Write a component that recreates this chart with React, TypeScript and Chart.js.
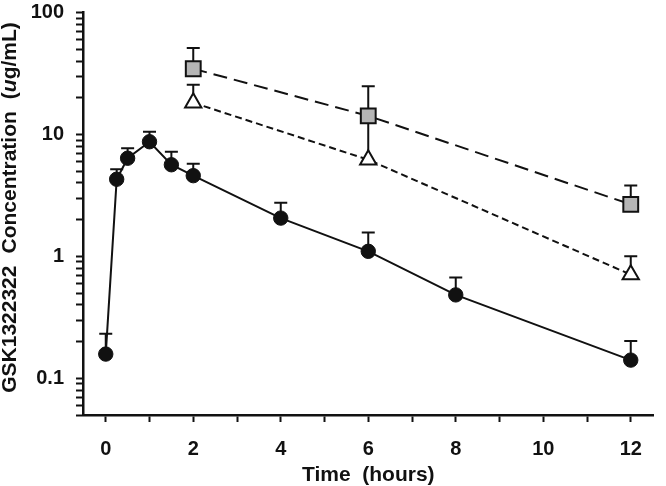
import React, { useEffect, useRef } from 'react';
import { Chart, registerables } from 'chart.js';

Chart.register(...registerables);

// Time (hours) and concentrations (ug/mL), mean and mean+SD (upper error bar)
const circleTimes = [0, 0.25, 0.5, 1, 1.5, 2, 4, 6, 8, 12];
const circleMeans = [0.158, 4.29, 6.38, 8.71, 5.64, 4.59, 2.06, 1.1, 0.483, 0.141];
const circleUpper = [0.232, 5.17, 7.69, 10.5, 7.22, 5.75, 2.75, 1.57, 0.672, 0.202];

const squareTimes = [2, 6, 12];
const squareMeans = [34.6, 14.2, 2.67];
const squareUpper = [51.2, 24.8, 3.81];

const triangleTimes = [2, 6, 12];
const triangleMeans = [18.2, 6.2, 0.708];
const triangleUpper = [25.6, 13.5, 1.0];

const xTickValues = [0, 1, 2, 3, 4, 5, 6, 7, 8, 9, 10, 11, 12];
const xLabelValues = [0, 2, 4, 6, 8, 10, 12];
const yDecades = [0.01, 0.1, 1, 10];
const yMultipliers = [1, 2, 3, 4, 5, 6, 7, 8, 9];
const yLabelValues = [0.1, 1, 10, 100];

const yTitleWords = ['GSK1322322', 'Concentration'];
const yTitleUnit = ['(', 'u', 'g/mL)'];
const xTitle = 'Time  (hours)';

const X_MIN = -0.52;
const X_MAX = 12.52;
const Y_MIN = 0.05;
const Y_MAX = 100;

const FAMILY = '"Liberation Sans", Arial, Helvetica, sans-serif';
const INK = '#111111';

const upperSets = [circleUpper, squareUpper, triangleUpper];

const toPoints = (xs: number[], ys: number[]) => xs.map((x, i) => ({ x, y: ys[i] }));

const errorBarPlugin = {
  id: 'errorBars',
  beforeDatasetsDraw(chart: any) {
    const ctx = chart.ctx;
    const yScale = chart.scales.y;
    ctx.save();
    ctx.strokeStyle = INK;
    ctx.lineWidth = 2;
    upperSets.forEach((upper, i) => {
      const meta = chart.getDatasetMeta(i);
      meta.data.forEach((pt: any, j: number) => {
        const yTop = yScale.getPixelForValue(upper[j]);
        ctx.beginPath();
        ctx.moveTo(pt.x, pt.y);
        ctx.lineTo(pt.x, yTop);
        ctx.moveTo(pt.x - 6.5, yTop);
        ctx.lineTo(pt.x + 6.5, yTop);
        ctx.stroke();
      });
    });
    ctx.restore();
  },
};

const yTitlePlugin = {
  id: 'yTitle',
  afterDraw(chart: any) {
    const ctx = chart.ctx;
    const normal = `bold 21px ${FAMILY}`;
    const italic = `italic bold 21px ${FAMILY}`;
    const gap = 12;
    const parts: [string, string, number][] = [
      [yTitleWords[0], normal, gap],
      [yTitleWords[1], normal, gap],
      [yTitleUnit[0], normal, 0],
      [yTitleUnit[1], italic, 0],
      [yTitleUnit[2], normal, 0],
    ];
    ctx.save();
    let total = 0;
    const widths = parts.map(([t, f, g]) => {
      ctx.font = f;
      const w = ctx.measureText(t).width;
      total += w + g;
      return w;
    });
    ctx.translate(10, 207.5);
    ctx.rotate(-Math.PI / 2);
    ctx.textBaseline = 'middle';
    ctx.textAlign = 'left';
    ctx.fillStyle = INK;
    let x = -total / 2;
    parts.forEach(([t, f, g], i) => {
      ctx.font = f;
      ctx.fillText(t, x, 0);
      x += widths[i] + g;
    });
    ctx.restore();
  },
};

export default function App() {
  const canvasRef = useRef<HTMLCanvasElement | null>(null);

  useEffect(() => {
    const canvas = canvasRef.current;
    if (!canvas) return;
    const chart = new Chart(canvas, {
      type: 'line',
      data: {
        datasets: [
          {
            label: 'Oral',
            data: toPoints(circleTimes, circleMeans),
            borderColor: INK,
            borderWidth: 2,
            pointStyle: 'circle',
            pointRadius: 7.2,
            pointBackgroundColor: INK,
            pointBorderColor: INK,
            pointBorderWidth: 1,
            fill: false,
            tension: 0,
          },
          {
            label: 'IV high',
            data: toPoints(squareTimes, squareMeans),
            borderColor: INK,
            borderWidth: 2,
            borderDash: [14, 7],
            pointStyle: 'rect',
            pointRadius: 10.5,
            pointBackgroundColor: '#b5b5b5',
            pointBorderColor: INK,
            pointBorderWidth: 2,
            fill: false,
            tension: 0,
          },
          {
            label: 'IV low',
            data: toPoints(triangleTimes, triangleMeans),
            borderColor: INK,
            borderWidth: 2,
            borderDash: [7, 4],
            pointStyle: 'triangle',
            pointRadius: 9.4,
            pointBackgroundColor: '#ffffff',
            pointBorderColor: INK,
            pointBorderWidth: 2,
            fill: false,
            tension: 0,
          },
        ],
      },
      options: {
        responsive: false,
        animation: false,
        events: [],
        clip: false as any,
        layout: { padding: { left: 0, right: 1, top: 0, bottom: 0 } },
        plugins: {
          legend: { display: false },
          tooltip: { enabled: false },
          title: { display: false },
        },
        scales: {
          x: {
            type: 'linear',
            min: X_MIN,
            max: X_MAX,
            afterBuildTicks: (scale: any) => {
              scale.ticks = xTickValues.map((v) => ({ value: v }));
            },
            afterFit: (scale: any) => {
              scale.height = 71;
              scale.paddingLeft = 0;
              scale.paddingRight = 0;
            },
            ticks: {
              autoSkip: false,
              maxRotation: 0,
              padding: 17,
              color: INK,
              font: { family: FAMILY, size: 20, weight: 'bold', lineHeight: 1 },
              callback: (v: any) => (xLabelValues.includes(Number(v)) ? String(v) : ''),
            },
            grid: {
              drawOnChartArea: false,
              drawTicks: true,
              tickLength: 7,
              tickColor: INK,
              tickWidth: 2,
            },
            border: { display: true, color: INK, width: 2.5 },
            title: {
              display: true,
              text: xTitle,
              color: INK,
              font: { family: FAMILY, size: 21, weight: 'bold', lineHeight: 1 },
              padding: { top: 0, bottom: 0 },
            },
          },
          y: {
            type: 'logarithmic',
            min: Y_MIN,
            max: Y_MAX,
            afterBuildTicks: (scale: any) => {
              const vals: number[] = [];
              yDecades.forEach((d) =>
                yMultipliers.forEach((m) => {
                  const v = Number((d * m).toPrecision(6));
                  if (v >= Y_MIN - 1e-9 && v <= Y_MAX + 1e-9) vals.push(v);
                })
              );
              vals.push(Y_MAX);
              scale.ticks = vals.map((v) => ({ value: v, major: yLabelValues.includes(v) }));
            },
            afterFit: (scale: any) => {
              scale.width = 83;
              scale.paddingTop = 8.5;
              scale.paddingBottom = 0;
            },
            ticks: {
              autoSkip: false,
              padding: 12,
              color: INK,
              font: { family: FAMILY, size: 20, weight: 'bold', lineHeight: 1 },
              callback: (v: any) => (yLabelValues.includes(Number(v)) ? String(Number(v)) : ''),
            },
            grid: {
              drawOnChartArea: false,
              drawTicks: true,
              tickLength: 7,
              tickColor: INK,
              tickWidth: 2,
            },
            border: { display: true, color: INK, width: 2.5 },
            title: { display: false },
          },
        },
      },
      plugins: [errorBarPlugin, yTitlePlugin],
    } as any);
    return () => chart.destroy();
  }, []);

  return (
    <div style={{ position: 'fixed', left: 0, top: 0, width: 666, height: 486, background: '#fff' }}>
      <canvas ref={canvasRef} width={666} height={486} style={{ display: 'block', width: 666, height: 486 }} />
    </div>
  );
}
